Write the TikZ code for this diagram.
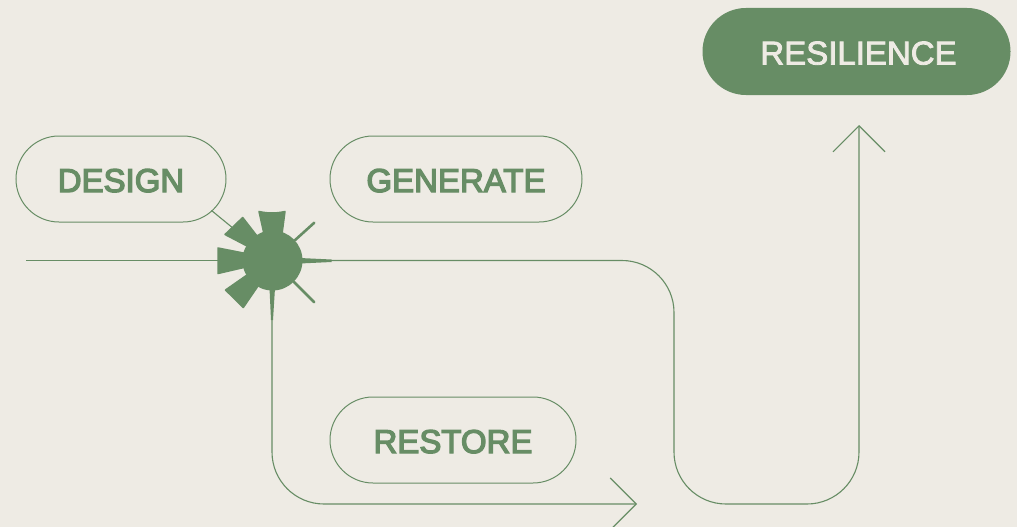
\documentclass[tikz,border=0pt]{standalone}
\usepackage{fontspec}
\setmainfont{Liberation Sans}
\usetikzlibrary{
    arrows.meta,
    positioning,
    calc
}
\definecolor{leaf}{HTML}{678D65}
\definecolor{paper}{HTML}{EEEBE4}
\tikzset{%
    % Specifications for style of nodes:
    base/.style = {
        rectangle, rounded corners=43pt, draw=leaf, line width=1pt,
        minimum height=86pt, inner sep=0pt, text height=26pt, text depth=0pt,
        text centered, font=\fontsize{33}{40}\selectfont\addfontfeature{FakeBold=4},
        text=leaf, fill=paper, align=center
    },
    goal/.style = {base, fill=leaf, text=paper, font=\fontsize{33}{40}\selectfont\addfontfeature{FakeBold=2.5}},
    hub/.style = {circle, fill=leaf, minimum size=60pt, inner sep=0pt},
    wire/.style = {draw=leaf, line width=1.1pt, rounded corners=52pt},
    ray/.style = {fill=leaf, draw=leaf, line width=1.5pt, line join=round},
    spoke/.style = {draw=leaf, line width=2.6pt, line cap=round},
    >={Straight Barb[length=26pt,width=52pt]}
}
\begin{document}
\begin{tikzpicture}[x=1pt,y=-1pt]
    \useasboundingbox[fill=paper] (0,0) rectangle (1017,527);
    \node[base, minimum width=210pt] (design) at (121,179) {DESIGN};
    \node[base, minimum width=252pt] (generate) at (456,179) {GENERATE};
    \node[base, minimum width=246pt] (restore) at (453,440) {RESTORE};
    \node[goal, minimum width=307pt] (resilience) at (856.5,51.5) {\kern4pt RESILIENCE};
    \node[hub] (sun) at (272.5,260.5) {};
    \coordinate (start) at (26,260.5);
    \coordinate (tail) at (211.5,210.5);
    \coordinate (east) at (331,260.5);
    \coordinate (south) at (272,320);
    \coordinate (endA) at (637,504);
    \coordinate (endB) at (859,125);
    % wires
    \draw[wire] (start) -- (sun);
    \draw[wire] (tail) -- (sun);
    \draw[wire, ->] (east) -- (674,260.5) -- (674,504) -- (859,504) -- (endB);
    \draw[wire, ->] (south) -- (272,504) -- (endA);
    % rays of the sun
    \fill[ray] (259,211.5) .. controls (268,213.5) and (276,213.5) .. (285,211.5) -- (282,234) -- (264,234) -- cycle;
    \fill[ray] (242.7,217.5) -- (225,234.5) -- (247,246) -- (257,236) -- cycle;
    \fill[ray] (218,248) -- (218,273.5) -- (246,267) -- (246,253.5) -- cycle;
    \fill[ray] (225.5,290) -- (243.3,307.5) -- (258,286) -- (247,275) -- cycle;
    \fill[leaf] (269.5,288) -- (275,288) -- (273,320) -- (271,320) -- cycle;
    \fill[leaf] (300,258) -- (331.5,259.5) -- (331.5,262) -- (300,263.5) -- cycle;
    \draw[spoke] (sun) -- (314.3,222.7);
    \draw[spoke] (sun) -- (314.3,302.3);
\end{tikzpicture}
\end{document}
